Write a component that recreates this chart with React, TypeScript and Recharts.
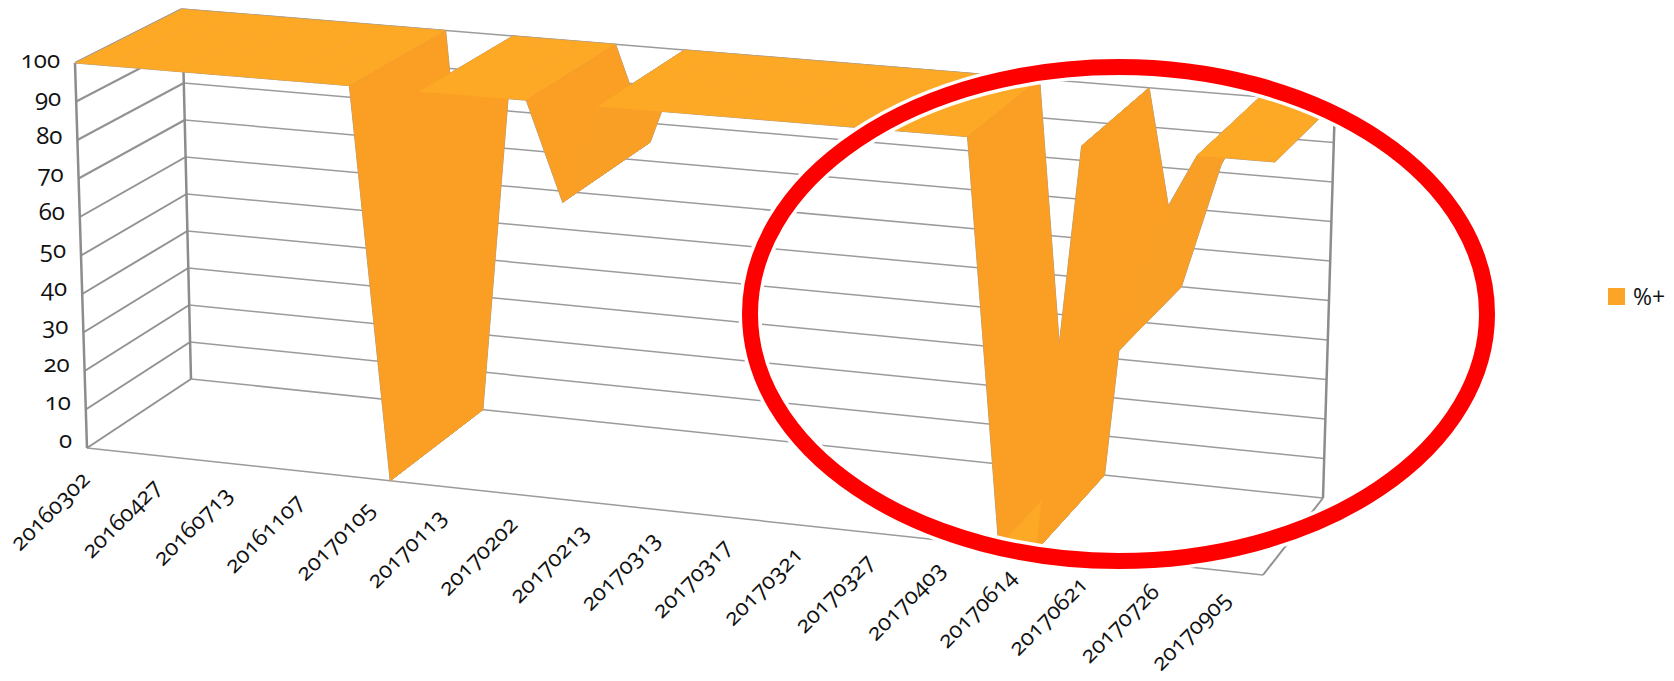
import { ScatterChart, Scatter, XAxis, YAxis, Legend } from 'recharts';

// every second date is printed on the axis, the ones between are not readable
const tickLabels = [
  '20160302', '20160427', '20160713', '20161107', '20170105', '20170113',
  '20170202', '20170213', '20170313', '20170317', '20170321', '20170327',
  '20170403', '20170614', '20170621', '20170726', '20170905',
];
const valueTicks = [0, 10, 20, 30, 40, 50, 60, 70, 80, 90, 100];
const seriesName = '%+';
const values = [
  100, 100, 100, 100, 100, 100, 100, 100, 100, 0, 100, 100, 100, 100, 75, 100, 100,
  100, 100, 100, 100, 100, 100, 100, 100, 100, 0, 0, 100, 50, 82, 100, 100, 100,
];

const WIDTH = 1674;
const HEIGHT = 681;
const FONT = '"Open Sans", Lato, sans-serif';
const GREY = '#9b9b9b';
const TOP = '#fea925';
const SIDE = '#fb9f24';
const DIM = '#f99f26';

// corners of the 3D box as they land on the picture
const floorFront = [[87, 448], [1263, 575]];
const floorBack = [[191, 379], [1323, 498]];
const roofFront = [[75, 63], [1275, 162]];
const roofBack = [[182, 9], [1335, 103]];

const mix = (a: number[], b: number[], t: number) => [a[0] + (b[0] - a[0]) * t, a[1] + (b[1] - a[1]) * t];

// slots get a little wider towards the right because of the perspective
const slot = (i: number) => {
  const t = i / (values.length - 1);
  return t * 0.925 + 0.075 * t * t;
};

function project(i: number, v: number, depth: number) {
  const t = slot(i);
  const low = mix(mix(floorFront[0], floorFront[1], t), mix(floorBack[0], floorBack[1], t), depth);
  const high = mix(mix(roofFront[0], roofFront[1], t), mix(roofBack[0], roofBack[1], t), depth);
  const p = mix(low, high, v / 100);
  return { x: p[0], y: p[1] };
}

const last = values.length - 1;
const ribbons = values.slice(0, -1).map((v, i) => {
  const next = values[i + 1];
  const d = next - v;
  return {
    key: i,
    color: d === 0 ? TOP : d > 0 && d < 60 ? DIM : SIDE,
    points: [project(i, v, 0), project(i, v, 1), project(i + 1, next, 1), project(i + 1, next, 0)],
  };
});

const wallLines = [
  ...valueTicks.map(v => [project(0, v, 0), project(0, v, 1)]),
  [project(last, 0, 0), project(last, 0, 1)],
];
const backLines = [
  ...valueTicks.map(v => [project(0, v, 1), project(last, v, 1)]),
  [project(0, 0, 0), project(last, 0, 0)],
];
const heavyLines = [
  [project(0, 0, 0), project(0, 100, 0)],
  [project(0, 0, 1), project(0, 100, 1)],
  [project(last, 0, 1), project(last, 100, 1)],
];

const valueLabels = valueTicks.map(v => {
  const p = project(0, v, 0);
  return { x: p.x - 15, y: p.y + v * 0.05, label: String(v) };
});
const dateLabels = tickLabels.map((label, i) => ({ x: 91 + 71.3 * i, y: 481 + 7.5 * i, label }));

const noDot = () => <g />;

function ValueLabel(props: any) {
  return (
    <text x={props.cx} y={props.cy} textAnchor="end" fontFamily={FONT} fontSize={24} fill="#111"
      style={{ fontFeatureSettings: '"onum"' }}>
      {props.payload.label}
    </text>
  );
}

function DateLabel(props: any) {
  return (
    <text x={props.cx} y={props.cy} textAnchor="end" fontFamily={FONT} fontSize={23} fill="#111"
      transform={`rotate(-45 ${props.cx} ${props.cy})`} style={{ fontFeatureSettings: '"onum"' }}>
      {props.payload.label}
    </text>
  );
}

function Ring(props: any) {
  return (
    <g fill="none">
      <ellipse cx={props.cx} cy={props.cy} rx={368.5} ry={247} stroke="#fff" strokeWidth={23} />
      <ellipse cx={props.cx} cy={props.cy} rx={368.5} ry={247} stroke="#ff0000" strokeWidth={16} />
    </g>
  );
}

function LegendBox({ payload }: any) {
  const items = (payload || []).filter((item: any) => item.value === seriesName).slice(0, 1);
  return (
    <div style={{ display: 'flex', alignItems: 'center', whiteSpace: 'nowrap', fontFamily: FONT, fontSize: 23, color: '#111' }}>
      {items.map((item: any) => (
        <span key={item.value} style={{ display: 'flex', alignItems: 'center' }}>
          <span style={{ width: 17, height: 17, background: '#fba428', marginRight: 8 }} />
          {item.value}
        </span>
      ))}
    </div>
  );
}

export default function App() {
  return (
    <div style={{ position: 'absolute', left: 0, top: 0, width: WIDTH, height: HEIGHT, background: '#fff' }}>
      <ScatterChart width={WIDTH} height={HEIGHT} margin={{ top: 0, right: 0, bottom: 0, left: 0 }}>
        <XAxis type="number" dataKey="x" domain={[0, WIDTH]} hide />
        <YAxis type="number" dataKey="y" domain={[0, HEIGHT]} reversed hide />
        <Legend content={<LegendBox />} wrapperStyle={{ left: 1608, top: 280, width: 0, height: 0 }} />

        {backLines.map((pts, i) => (
          <Scatter key={`back${i}`} data={pts} shape={noDot} line={{ stroke: GREY, strokeWidth: 1.5 }}
            legendType="none" isAnimationActive={false} />
        ))}
        {wallLines.map((pts, i) => (
          <Scatter key={`wall${i}`} data={pts} shape={noDot} line={{ stroke: '#929292', strokeWidth: 2 }}
            legendType="none" isAnimationActive={false} />
        ))}
        {heavyLines.map((pts, i) => (
          <Scatter key={`edge${i}`} data={pts} shape={noDot} line={{ stroke: '#8c8c8c', strokeWidth: 2.5 }}
            legendType="none" isAnimationActive={false} />
        ))}

        {/* grey pass first so only a hairline of it is left round the silhouette */}
        {ribbons.map(r => (
          <Scatter key={`outline${r.key}`} data={r.points} shape={noDot} lineJointType="linearClosed"
            line={{ fill: GREY, stroke: GREY, strokeWidth: 1 }} legendType="none" isAnimationActive={false} />
        ))}
        {ribbons.map(r => (
          <Scatter key={`ribbon${r.key}`} data={r.points} shape={noDot} lineJointType="linearClosed"
            line={{ fill: r.color, stroke: r.color, strokeWidth: 0.4 }} legendType="none" isAnimationActive={false} />
        ))}

        <Scatter data={[{ x: 1118.5, y: 314 }]} shape={Ring} legendType="none" isAnimationActive={false} />
        <Scatter data={valueLabels} shape={ValueLabel} legendType="none" isAnimationActive={false} />
        <Scatter data={dateLabels} shape={DateLabel} legendType="none" isAnimationActive={false} />
        <Scatter name={seriesName} data={[]} fill={SIDE} legendType="square" isAnimationActive={false} />
      </ScatterChart>
    </div>
  );
}
